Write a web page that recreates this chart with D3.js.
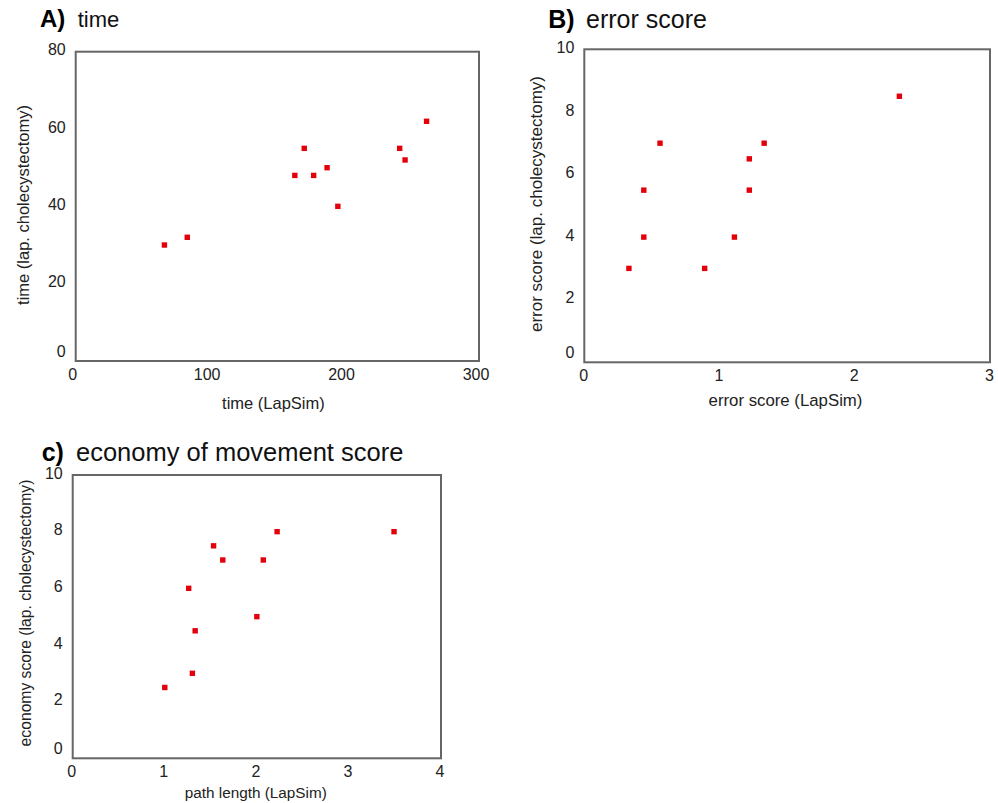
<!DOCTYPE html>
<html lang="en">
<meta charset="utf-8">
<style>
  body { margin: 0; background: #fff; }
  svg { font-family: "Liberation Sans", Arial, sans-serif; }
  .frame { fill: none; stroke: #666; stroke-width: 2px; }
  .tick text { font-size: 16px; fill: #222; }
  .axisLabel { font-size: 16.5px; fill: #222; text-anchor: middle; }
  .dot { fill: #e3000b; }
</style>
<script src="https://d3js.org/d3.v7.min.js"></script>
<body>
<div id="chart"></div>
<script>
// values
const timeLapSim = [66, 83, 163, 170, 177, 187, 195, 241, 245, 261]
const timeLapChole = [30, 32, 48, 55, 48, 50, 40, 55, 52, 62]
const timeTicksX = [0, 100, 200, 300]
const timeTicksY = [0, 20, 40, 60, 80]

const errorLapSim = [0.33, 0.44, 0.44, 0.56, 0.89, 1.11, 1.22, 1.22, 1.33, 2.33]
const errorLapChole = [3, 4, 5.5, 7, 3, 4, 5.5, 6.5, 7, 8.5]
const errorTicksX = [0, 1, 2, 3]
const errorTicksY = [0, 2, 4, 6, 8, 10]

const pathLapSim = [1.0, 1.26, 1.3, 1.33, 1.53, 1.63, 2.0, 2.07, 2.22, 3.49]
const economyLapChole = [2.5, 6, 3, 4.5, 7.5, 7, 5, 7, 8, 8]
const pathTicksX = [0, 1, 2, 3, 4]
const economyTicksY = [0, 2, 4, 6, 8, 10]

const svg = d3.select("#chart").append("svg")
  .attr("width", 998)
  .attr("height", 803)

function panel(p) {
  const x = d3.scaleLinear().domain(d3.extent(p.ticksX)).range([p.left, p.right])
  const y = d3.scaleLinear().domain(d3.extent(p.ticksY)).range([p.bottom, p.top])
  const g = svg.append("g")

  // title
  const title = g.append("text")
    .attr("x", p.titleX)
    .attr("y", p.titleY)
  title.append("tspan")
    .style("font-weight", "bold")
    .style("font-size", p.letterSize + "px")
    .text(p.letter)
  title.append("tspan")
    .attr("x", p.titleX + p.titleGap)
    .style("font-size", p.titleSize + "px")
    .attr("fill", "#111")
    .text(p.title)

  // axes (labels only)
  const xAxis = g.append("g")
    .attr("transform", `translate(0, ${p.bottom})`)
    .call(d3.axisBottom(x).tickValues(p.ticksX).tickSize(0).tickPadding(7.5).tickFormat(d3.format("")))
  xAxis.select(".domain").remove()
  xAxis.selectAll("text").attr("dx", p.xShift)

  const yAxis = g.append("g")
    .attr("transform", `translate(${p.left}, 0)`)
    .call(d3.axisLeft(y).tickValues(p.ticksY).tickSize(0).tickPadding(10).tickFormat(d3.format("")))
  yAxis.select(".domain").remove()
  yAxis.selectAll("text").attr("dy", d => d === 0 ? "-0.28em" : "0.2em")

  g.append("rect")
    .attr("class", "frame")
    .attr("x", p.left)
    .attr("y", p.top)
    .attr("width", p.right - p.left)
    .attr("height", p.bottom - p.top)

  // points
  g.selectAll(".dot")
    .data(p.xs.map((v, i) => [v, p.ys[i]]))
    .join("rect")
    .attr("class", "dot")
    .attr("x", d => x(d[0]) - 2.7)
    .attr("y", d => y(d[1]) - 2.7)
    .attr("width", 5.4)
    .attr("height", 5.4)

  g.append("text")
    .attr("class", "axisLabel")
    .attr("x", p.xLabelX)
    .attr("y", p.xLabelY)
    .style("font-size", p.labelSize + "px")
    .text(p.xLabel)

  g.append("text")
    .attr("class", "axisLabel")
    .attr("transform", `translate(${p.yLabelX}, ${p.yLabelY}) rotate(-90)`)
    .style("font-size", p.yLabelSize + "px")
    .text(p.yLabel)
}

panel({
  left: 75.7, right: 479, top: 51.7, bottom: 361,
  ticksX: timeTicksX, ticksY: timeTicksY, xs: timeLapSim, ys: timeLapChole,
  letter: "A)", title: "time", titleX: 40, titleY: 27, titleGap: 37.7, letterSize: 24, titleSize: 22,
  xShift: -3.5,
  xLabel: "time (LapSim)", xLabelX: 273.4, xLabelY: 409, labelSize: 16.5,
  yLabel: "time (lap. cholecystectomy)", yLabelX: 28.7, yLabelY: 205, yLabelSize: 16.5
})

panel({
  left: 584.3, right: 990, top: 49.3, bottom: 362.3,
  ticksX: errorTicksX, ticksY: errorTicksY, xs: errorLapSim, ys: errorLapChole,
  letter: "B)", title: "error score", titleX: 548.3, titleY: 28, titleGap: 37.7, letterSize: 25, titleSize: 25,
  xShift: -1,
  xLabel: "error score (LapSim)", xLabelX: 785.5, xLabelY: 406, labelSize: 16.8,
  yLabel: "error score (lap. cholecystectomy)", yLabelX: 542, yLabelY: 204, yLabelSize: 17
})

panel({
  left: 72.7, right: 441, top: 475, bottom: 758.3,
  ticksX: pathTicksX, ticksY: economyTicksY, xs: pathLapSim, ys: economyLapChole,
  letter: "c)", title: "economy of movement score", titleX: 41.7, titleY: 461, titleGap: 34.3, letterSize: 25, titleSize: 25.5,
  xShift: -1.5,
  xLabel: "path length (LapSim)", xLabelX: 255.8, xLabelY: 798, labelSize: 15.3,
  yLabel: "economy score (lap. cholecystectomy)", yLabelX: 30.5, yLabelY: 613, yLabelSize: 15.7
})
</script>
</body>
</html>
